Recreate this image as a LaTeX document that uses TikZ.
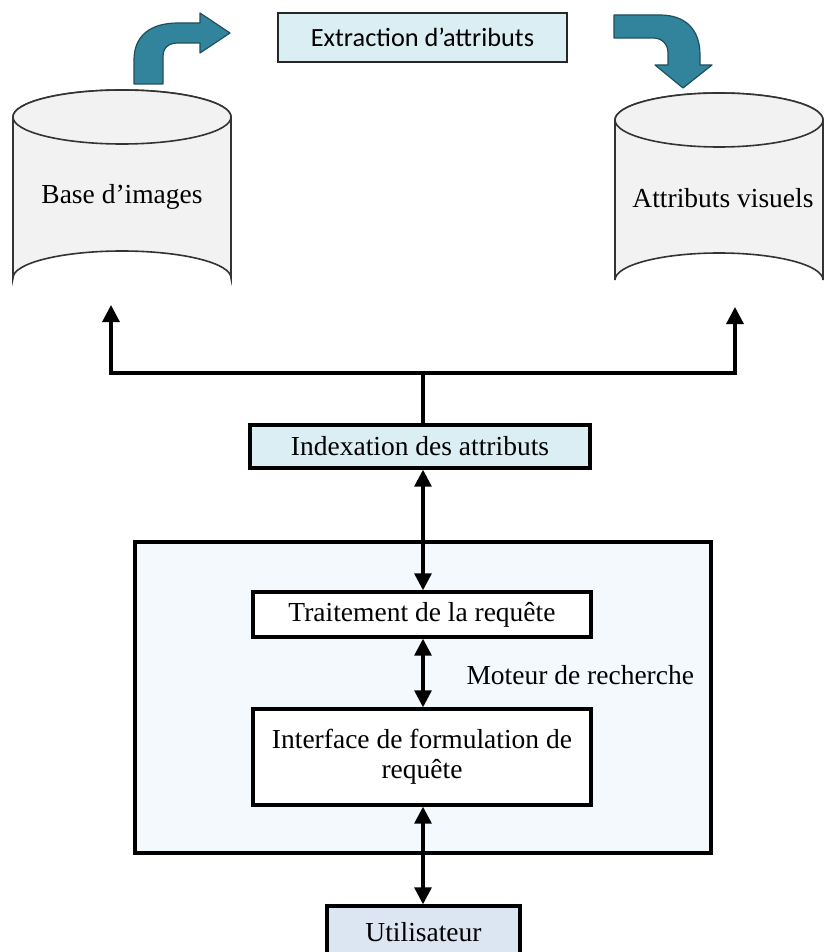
\documentclass[tikz,border=0pt]{standalone}
\usepackage{fontspec}
\setmainfont{Liberation Serif}
\newfontfamily\calib{Carlito}
\usetikzlibrary{arrows.meta}

\definecolor{teal}{HTML}{31849B}
\definecolor{tealdark}{HTML}{1F4F5E}
\definecolor{paleblue}{HTML}{DBEEF4}
\definecolor{enginebg}{HTML}{F4F9FD}
\definecolor{userbg}{HTML}{DCE6F2}
\definecolor{drum}{HTML}{F2F2F2}

\tikzset{
  txt/.style={font=\fontsize{27.5}{32}\selectfont},
  box/.style={draw=black, line width=3.4pt, inner sep=0pt, align=center, txt},
  thinbox/.style={draw=black!85, line width=1.8pt, inner sep=0pt, align=center},
  link/.style={line width=3.2pt},
  tip/.style={-{Triangle[length=17pt,width=17pt]}},
  tips/.style={{Triangle[length=17pt,width=17pt]}-{Triangle[length=17pt,width=17pt]}},
  drumline/.style={draw=black!80, line width=1.6pt, fill=drum},
  bent/.style={fill=teal, draw=tealdark, line width=1.2pt, line join=round}
}

\begin{document}
\begin{tikzpicture}[x=1pt, y=-1pt]
\useasboundingbox (0,0) rectangle (824,952);
\clip (0,0) rectangle (824,952);
\fill[white] (0,0) rectangle (824,952);

% image database drum
\path[drumline] (13,117) -- (13,278) arc[start angle=180, end angle=360, x radius=109, y radius=27]
  -- (231,117) arc[start angle=0, end angle=-180, x radius=109, y radius=27] -- cycle;
\draw[drumline] (122,117) ellipse[x radius=109, y radius=27];
\node[txt] (base) at (122,197) {Base d’images};
\coordinate (baseB) at (111,305);

% visual features drum
\path[drumline] (615,120) -- (615,280) arc[start angle=180, end angle=360, x radius=104, y radius=27]
  -- (823,120) arc[start angle=0, end angle=-180, x radius=104, y radius=27] -- cycle;
\draw[drumline] (719,120) ellipse[x radius=104, y radius=27];
\node[txt] (attr) at (723,198) {Attributs visuels};
\coordinate (attrB) at (735,307);

% feature extraction step and its bent arrows
\node[thinbox, fill=paleblue, minimum width=289pt, minimum height=49pt,
  font=\calib\fontsize{26.3}{30}\selectfont] (extr) at (422.5,37.5) {Extraction d’attributs};

\path[bent] (134,84) -- (134,60) .. controls (134,36) and (150,23) .. (178,23) -- (200,23)
  -- (200,13) -- (230,33) -- (200,53) -- (200,43) -- (178,43)
  .. controls (168,43) and (163,48) .. (163,57) -- (163,84) -- cycle;

\path[bent] (614,15) -- (660,15) .. controls (686,15) and (700,30) .. (700,55) -- (700,65)
  -- (712,65) -- (683,88) -- (655,65) -- (668,65) -- (668,53)
  .. controls (668,44) and (662,38) .. (653,38) -- (614,38) -- cycle;

% indexing
\node[box, fill=paleblue, minimum width=340pt, minimum height=43pt] (idx) at (420,446.5) {Indexation des attributs};
\coordinate (fork) at (423,373);
\draw[link] (idx.north -| fork) -- (fork);
\draw[link, tip] (fork) -| (baseB);
\draw[link, tip] (fork) -| (attrB);

% search engine
\node[box, fill=enginebg, minimum width=576pt, minimum height=311pt] (engine) at (423,697.5) {};
\node[box, fill=white, minimum width=338pt, minimum height=45pt] (proc) at (422,614.5) {Traitement de la requête};
\node[box, fill=white, minimum width=338pt, minimum height=96pt] (ui) at (422,757)
  {Interface de formulation de\\[-2pt] requête};
\node[txt, anchor=west] (eng) at (463,675) {Moteur de recherche};

\node[box, fill=userbg, minimum width=193pt, minimum height=58pt] (user) at (423.5,935) {};
\node[txt] (userlbl) at (423.5,932) {Utilisateur};

\draw[link, tips] (idx.south -| fork) -- (proc.north -| fork);
\draw[link, tips] (proc.south -| fork) -- (ui.north -| fork);
\draw[link, tips] (ui.south -| fork) -- (user.north -| fork);
\end{tikzpicture}
\end{document}
